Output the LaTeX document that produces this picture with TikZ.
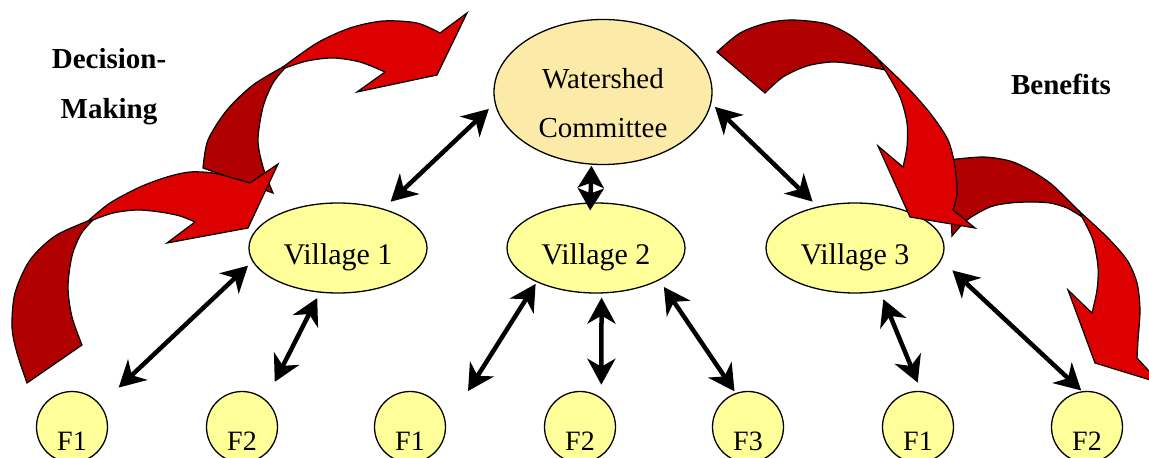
\documentclass[tikz,border=0pt]{standalone}
\usepackage{fontspec}
\setmainfont{Liberation Serif}
\usetikzlibrary{shapes.geometric,arrows.meta}

\definecolor{paleyellow}{HTML}{FFFF99}
\definecolor{paletan}{HTML}{FCEBA8}
\definecolor{brightred}{HTML}{DC0000}
\definecolor{darkred}{HTML}{B00000}

\begin{document}
\begin{tikzpicture}[x=1bp,y=-1bp,
committee/.style={ellipse, draw, line width=1.3bp, fill=paletan, minimum width=218bp, minimum height=145bp, inner sep=0pt, align=center, font=\fontsize{29bp}{49bp}\selectfont},
village/.style={ellipse, draw, line width=1.3bp, fill=paleyellow, minimum width=178bp, minimum height=90bp, inner sep=0pt, text height=34bp, text depth=0pt, font=\fontsize{30bp}{36bp}\selectfont},
farmer/.style={circle, draw, line width=1.3bp, fill=paleyellow, minimum size=71bp, inner sep=0pt, text height=48bp, text depth=0pt, font=\fontsize{28bp}{32bp}\selectfont},
heading/.style={align=center, font=\fontsize{29bp}{50bp}\selectfont\bfseries},
link/.style={<->, line width=4.5bp, >={Stealth[length=26bp,width=28bp,inset=8bp]}},
front/.style={draw, line width=1.2bp, fill=brightred},
back/.style={draw, line width=1.2bp, fill=darkred},
]
\useasboundingbox (0,0) rectangle (1149,458);
\clip (0,0) rectangle (1149,458);

\node[heading] (t1) at (109,87) {Decision-\\Making};
\node[heading] (t2) at (1061,84) {Benefits};

\node[committee] (a1) at (603,92) {\rule{0pt}{42bp}Watershed\\Committee};

\node[village] (b1) at (338,248) {Village 1};
\node[village] (b2) at (596,248) {Village 2};
\node[village] (b3) at (855,248) {Village 3};

\node[farmer] (c1) at (72,427) {F1};
\node[farmer] (c2) at (242,427) {F2};
\node[farmer] (c3) at (410,427) {F1};
\node[farmer] (c4) at (580,427) {F2};
\node[farmer] (c5) at (748,427) {F3};
\node[farmer] (c6) at (918,427) {F1};
\node[farmer] (c7) at (1087,427) {F2};

% decision-making, upper arrow
\path[back] plot[smooth] coordinates {(203,168) (208,140) (227,110) (253,85) (283,67)}
  -- plot[smooth] coordinates {(285,68) (273,83) (263,107) (258,140) (263,167) (273,193)} -- cycle;
\path[front] plot[smooth] coordinates {(283,67) (317,43) (350,28) (383,21) (417,23) (440,33)}
  -- (467,13) -- (437,75) -- (357,92)
  -- plot[smooth] coordinates {(385,72) (360,62) (333,58) (307,61) (285,68)} -- cycle;
% decision-making, lower arrow
\path[back] plot[smooth] coordinates {(27,383) (17,353) (12,327) (15,293) (30,260) (55,236) (88,221)}
  -- plot[smooth] coordinates {(93,220) (81,234) (72,256) (68,287) (72,317) (82,345)} -- cycle;
\path[front] plot[smooth] coordinates {(88,221) (110,203) (140,187) (167,177) (190,172) (213,173) (233,178) (250,183)}
  -- (278,164) -- (248,228) -- (167,243)
  -- plot[smooth] coordinates {(195,222) (180,216) (160,212) (137,210) (113,213) (93,220)} -- cycle;

% benefits, lower arrow
\path[back] plot[smooth] coordinates {(948,160) (983,157) (1010,161) (1030,170) (1050,183) (1068,200) (1080,212)}
  -- plot[smooth] coordinates {(1082,217) (1067,208) (1050,203) (1030,202) (1010,203) (990,207) (967,220) (952,236)} -- cycle;
\path[front] plot[smooth] coordinates {(1080,212) (1107,237) (1127,260) (1137,283) (1140,310) (1138,340) (1137,358)}
  -- (1160,383) -- (1095,363) -- (1068,290)
  -- plot[smooth] coordinates {(1092,313) (1097,290) (1098,267) (1093,240) (1082,217)} -- cycle;
% benefits, upper arrow
\path[back] plot[smooth] coordinates {(717,52) (740,33) (767,23) (793,20) (827,24) (853,37) (877,58)}
  -- plot[smooth] coordinates {(885,70) (860,65) (833,62) (807,66) (783,77) (765,93)} -- cycle;
\path[front] plot[smooth] coordinates {(877,58) (907,87) (930,113) (948,140) (955,167) (957,193) (953,210)}
  -- (975,228) -- (910,217) -- (878,146)
  -- plot[smooth] coordinates {(903,167) (907,147) (907,123) (900,97) (885,70)} -- cycle;

\path[link]
(a1.186) edge[shorten <=8bp, shorten >=10bp] (b1.41)
(a1.261) edge[shorten <=1bp, shorten >=-8bp, >={Stealth[length=22bp,width=26bp,inset=5bp]}] (b2.97)
(a1.354) edge[shorten <=5bp, shorten >=7bp] (b3.132)
(b1.189) edge[shorten <=6bp, shorten >=25bp] (c1.38)
(b1.248) edge[shorten <=6bp, shorten >=20bp] (c2.49)
(b2.210) edge[shorten <=2bp, shorten >=41bp] (c3.2)
(b2.277) edge[shorten <=4bp, shorten >=13bp] (c4.54)
(b2.333) edge[shorten <=8bp, shorten >=2bp] (c5.110)
(b3.300) edge[shorten <=8bp, shorten >=9bp] (c6.85)
(b3.352) edge[shorten <=15bp, shorten >=1bp] (c7.98)
;
\end{tikzpicture}
\end{document}
